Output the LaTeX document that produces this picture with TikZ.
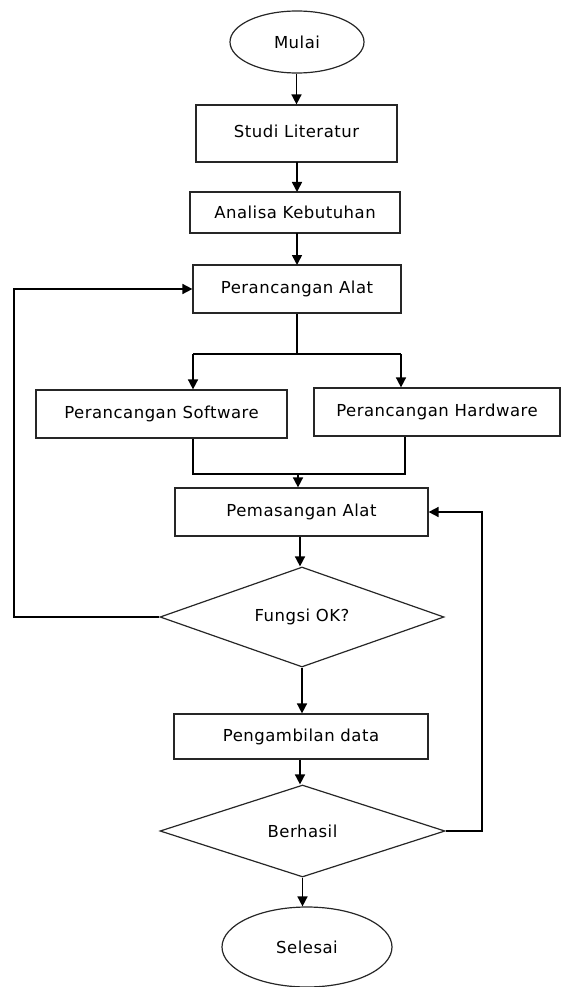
\documentclass[tikz,border=0pt]{standalone}
\usepackage{fontspec}
\setmainfont[LetterSpace=3]{DejaVu Sans}
\usetikzlibrary{shapes.geometric,arrows.meta}
\begin{document}
\begin{tikzpicture}[x=1pt,y=-1pt,
  every node/.style={font=\fontsize{16.5}{19}\selectfont, inner sep=0pt},
  box/.style={draw=black!85, line width=1.2pt, rectangle},
  term/.style={draw=black!85, line width=1.2pt, ellipse},
  dec/.style={draw=black!85, line width=1.2pt, diamond, aspect=2.8},
  conn/.style={draw=black, line width=1.6pt},
  arr/.style={conn, -{Triangle[length=10pt,width=10pt]}}
]
\useasboundingbox (0,0) rectangle (562,987);

\node[term, minimum width=134pt, minimum height=62pt] (mulai) at (297,42) {Mulai};
\node[box, minimum width=201pt, minimum height=57pt] (studi) at (296.5,133.5) {\raisebox{5pt}{Studi Literatur}};
\node[box, minimum width=210pt, minimum height=41pt] (analisa) at (295,212.5) {Analisa Kebutuhan};
\node[box, minimum width=208pt, minimum height=48pt] (pa) at (297,289) {Perancangan Alat};
\node[box, minimum width=251pt, minimum height=48pt] (soft) at (161.5,414) {Perancangan Software};
\node[box, minimum width=246pt, minimum height=48pt] (hard) at (437,412) {Perancangan Hardware};
\node[box, minimum width=253pt, minimum height=48pt] (pem) at (301.5,512) {Pemasangan Alat};
\node[dec, minimum width=284pt, minimum height=100pt] (fungsi) at (302,617) {Fungsi OK?};
\node[box, minimum width=254pt, minimum height=45pt] (peng) at (301,736.5) {Pengambilan data};
\node[dec, minimum width=285pt, minimum height=92pt] (berhasil) at (302.5,831) {Berhasil};
\node[term, minimum width=170pt, minimum height=80pt] (selesai) at (307,947) {Selesai};

\coordinate (split) at (297,354);
\coordinate (splitL) at (193,354);
\coordinate (splitR) at (401,354);
\coordinate (joinL) at (193,474);
\coordinate (joinR) at (405,474);
\coordinate (joinM) at (298,474);
\coordinate (loopL) at (14,617);
\coordinate (loopR) at (482,831);

\draw[arr] (mulai.south -| studi.north) -- (studi.north);
\draw[arr] (297,162) -- (297,192);
\draw[arr] (297,233) -- (297,265);
\draw[conn] (pa.south -| split) -- (split);
\draw[conn] (splitL) -- (splitR);
\draw[arr] (splitL) -- (splitL |- soft.north);
\draw[arr] (splitR) -- (splitR |- hard.north);
\draw[conn] (soft.south -| joinL) -- (joinL) -- (joinR) -- (hard.south -| joinR);
\draw[arr] (joinM) -- (joinM |- pem.north);
\draw[arr] (pem.south -| 300,0) -- (fungsi.north -| 300,0);
\draw[arr] (fungsi.west) -- (loopL) |- (pa.west);
\draw[arr] (fungsi.south) -- (peng.north -| fungsi.south);
\draw[arr] (peng.south -| 300,0) -- (berhasil.north -| 300,0);
\draw[arr] (berhasil.east) -- (loopR) |- (pem.east);
\draw[arr] (berhasil.south) -- (selesai.north -| berhasil.south);
\end{tikzpicture}
\end{document}
